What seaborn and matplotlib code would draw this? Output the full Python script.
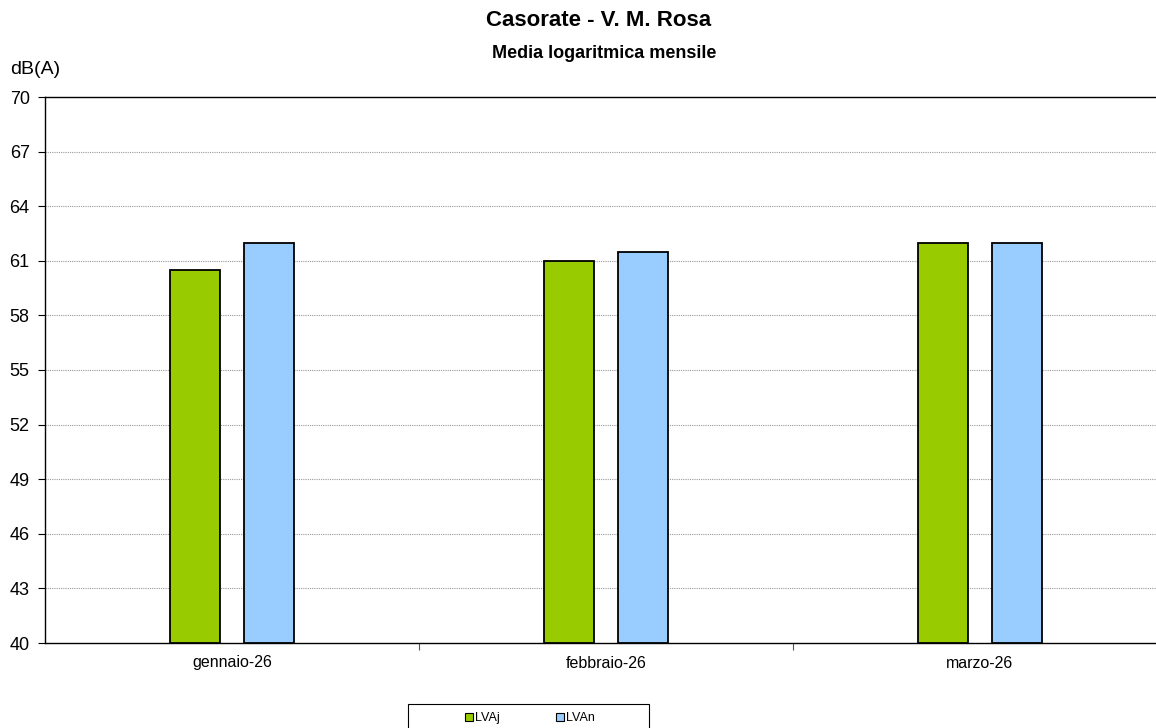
import matplotlib
matplotlib.use("Agg")
import matplotlib.pyplot as plt
import seaborn as sns
import pandas as pd
from matplotlib.patches import Patch, Rectangle

# monthly log-average levels dB(A)
months = ["gennaio-26", "febbraio-26", "marzo-26"]
lvaj = [60.5, 61.0, 62.0]
lvan = [62.0, 61.5, 62.0]
series = ["LVAj", "LVAn"]
colors = ["#99CC00", "#99CCFF"]
yticks = [40, 43, 46, 49, 52, 55, 58, 61, 64, 67, 70]

df = pd.DataFrame({
    "mese": months * 2,
    "valore": lvaj + lvan,
    "serie": ["LVAj"] * 3 + ["LVAn"] * 3,
})

sns.set_style("white")
plt.rcParams["font.family"] = ["Liberation Sans", "DejaVu Sans"]
plt.rcParams["text.color"] = "black"
plt.rcParams["xtick.color"] = "black"
plt.rcParams["ytick.color"] = "black"

fig = plt.figure(figsize=(11.56, 7.28), dpi=100)
ax = fig.add_axes([45 / 1156, 1 - 643 / 728, (1167 - 45) / 1156, (643 - 97) / 728])

# bars start at 40, so plot heights above the baseline
df["h"] = df["valore"] - 40
sns.barplot(data=df, x="mese", y="h", hue="serie", palette=colors, order=months,
            width=0.4, gap=0.33, edgecolor="black", linewidth=1.3, bottom=40,
            saturation=1, legend=False, ax=ax, zorder=3)

ax.set_ylim(40, 70)
ax.set_xlim(-0.5, 2.5)
ax.set_yticks(yticks)
ax.set_yticklabels([str(t) for t in yticks], fontsize=13)
for t in yticks[1:-1]:
    ax.axhline(t, color="#999999", linestyle=(0, (1, 1)), linewidth=0.8, zorder=1)

# category labels in the middle, tick marks at the boundaries
ax.set_xticks([0.5, 1.5], minor=False)
ax.set_xticklabels([])
ax.set_xticks([0, 1, 2], minor=True)
ax.set_xticklabels(months, minor=True, fontsize=11.5)
ax.tick_params(axis="x", which="minor", length=0, pad=9)
ax.tick_params(axis="x", which="major", direction="out", length=5, color="#555555", bottom=True)
ax.tick_params(axis="y", direction="out", length=5, left=True, pad=6)
ax.set_xlabel("")
ax.set_ylabel("")

for side in ["left", "bottom", "top"]:
    ax.spines[side].set_visible(True)
    ax.spines[side].set_color("black")
    ax.spines[side].set_linewidth(1.0)
ax.spines["right"].set_visible(False)

fig.text(599 / 1156, 1 - 21 / 728, "Casorate - V. M. Rosa", ha="center", va="center",
         fontsize=16, fontweight="bold")
fig.text(604 / 1156, 1 - 53 / 728, "Media logaritmica mensile", ha="center", va="center",
         fontsize=13, fontweight="bold")
fig.text(10 / 1156, 1 - 69 / 728, "dB(A)", ha="left", va="center", fontsize=14)

# legend box runs off the bottom of the image, as in the original
fig.add_artist(Rectangle((408 / 1156, -0.05), 241 / 1156, 0.05 + 1 - 704 / 728,
                         transform=fig.transFigure, facecolor="white",
                         edgecolor="black", linewidth=0.8))
handles = [Patch(facecolor=c, edgecolor="black", linewidth=0.8, label=s)
           for c, s in zip(colors, series)]
fig.legend(handles=handles, loc="center", ncol=2, fontsize=9,
           bbox_to_anchor=(530 / 1156, 1 - 718 / 728), frameon=False,
           handlelength=0.6, handleheight=0.6, handletextpad=0.2,
           columnspacing=4.5, borderpad=0, borderaxespad=0)

fig.savefig("out.png", dpi=100)
